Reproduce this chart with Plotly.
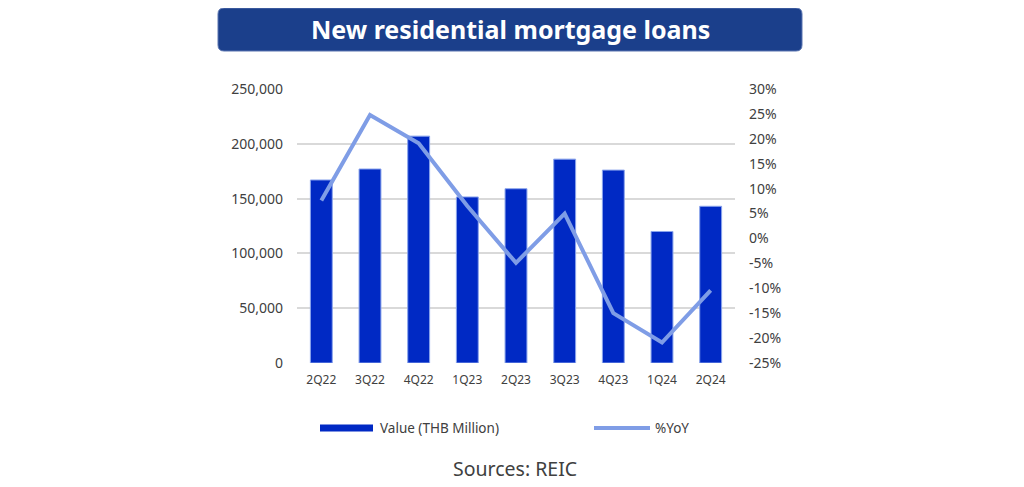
import plotly.graph_objects as go

categories = ["2Q22", "3Q22", "4Q22", "1Q23", "2Q23", "3Q23", "4Q23", "1Q24", "2Q24"]
value_thb_million = [167000, 177000, 207000, 151500, 159000, 186000, 176000, 120000, 143000]
yoy_pct = [7.6, 24.8, 19.1, 6.5, -4.9, 5.0, -15.0, -20.9, -10.4]

left_ticks = [0, 50000, 100000, 150000, 200000, 250000]
right_tickvals = [-25, -20, -15, -10, -5, 0, 5, 10, 15, 20, 25, 30]
right_ticktext = ["-25%", "-20%", "-15%", "-10%", "-5%", "0%", "5%", "10%", "15%", "20%", "25%", "30%"]

title_text = "New residential mortgage loans"
source_text = "Sources: REIC"
bar_name = "Value (THB Million)"
line_name = "%YoY"

BAR_COLOR = "#0029C4"
LINE_COLOR = "#7F9DE6"

OFF = 8  # page body offset
W, H = 1024 - OFF, 487 - OFF
L, R, T, B = 297 - OFF, 735 - OFF, 89 - OFF, 363 - OFF
pw, ph = R - L, B - T


def px(x):
    return (x - OFF - L) / pw


def py(y):
    return (B - (y - OFF)) / ph


fig = go.Figure()
fig.add_trace(go.Bar(
    x=categories, y=value_thb_million, name=bar_name,
    marker=dict(color=BAR_COLOR, line=dict(color="#8AA4EC", width=1)),
    width=0.45, yaxis="y",
))
fig.add_trace(go.Scatter(
    x=categories, y=yoy_pct, name=line_name, mode="lines",
    line=dict(color=LINE_COLOR, width=4), yaxis="y2",
))

# rounded title box
x0, x1, y0, y1 = px(218), px(802), py(51), py(8)
rx, ry = 6 / pw, 6 / ph
path = (f"M{x0+rx},{y0} L{x1-rx},{y0} Q{x1},{y0} {x1},{y0+ry} L{x1},{y1-ry} Q{x1},{y1} {x1-rx},{y1} "
        f"L{x0+rx},{y1} Q{x0},{y1} {x0},{y1-ry} L{x0},{y0+ry} Q{x0},{y0} {x0+rx},{y0} Z")

shapes = [
    dict(type="path", path=path, xref="paper", yref="paper",
         fillcolor="#1B3F8B", line=dict(color="#5A74B0", width=1), layer="above"),
    # legend symbols
    dict(type="rect", xref="paper", yref="paper", x0=px(320), x1=px(373), y0=py(431.5), y1=py(424.5),
         fillcolor=BAR_COLOR, line=dict(width=0)),
    dict(type="line", xref="paper", yref="paper", x0=px(594), x1=px(650), y0=py(428), y1=py(428),
         line=dict(color=LINE_COLOR, width=4)),
]

fig.update_layout(
    width=W, height=H,
    margin=dict(l=L, r=W - R, t=T, b=H - B),
    paper_bgcolor="white", plot_bgcolor="white",
    font=dict(family="Noto Sans", color="#404040", size=13),
    showlegend=False,
    shapes=shapes,
    annotations=[
        dict(text=f"<b>{title_text}</b>", x=px(510), y=py(29), xref="paper", yref="paper",
             showarrow=False, font=dict(color="white", size=25, family="Noto Sans"),
             xanchor="center", yanchor="middle"),
        dict(text=source_text, x=px(515), y=py(468), xref="paper", yref="paper",
             showarrow=False, font=dict(color="#404040", size=19.5, family="Noto Sans"),
             xanchor="center", yanchor="middle"),
        dict(text=bar_name, x=px(378), y=py(428), xref="paper", yref="paper",
             showarrow=False, font=dict(color="#404040", size=13.5),
             xanchor="left", yanchor="middle"),
        dict(text=line_name, x=px(653), y=py(428), xref="paper", yref="paper",
             showarrow=False, font=dict(color="#404040", size=13.5),
             xanchor="left", yanchor="middle"),
    ],
    xaxis=dict(showgrid=False, showline=False, ticks="", tickfont=dict(size=12, color="#404040"),
               ticklabelstandoff=8),
    yaxis=dict(range=[0, 250000], tickvals=left_ticks, tickformat=",d",
               gridcolor="#D9D9D9", gridwidth=1.5, zeroline=False,
               tickfont=dict(size=14, color="#404040"), ticklabelstandoff=13),
    yaxis2=dict(range=[-25, 30], tickvals=right_tickvals, ticktext=right_ticktext,
                overlaying="y", side="right", showgrid=False, zeroline=False,
                tickfont=dict(size=14, color="#404040"), ticklabelstandoff=13),
)

fig.write_html("out.html")
